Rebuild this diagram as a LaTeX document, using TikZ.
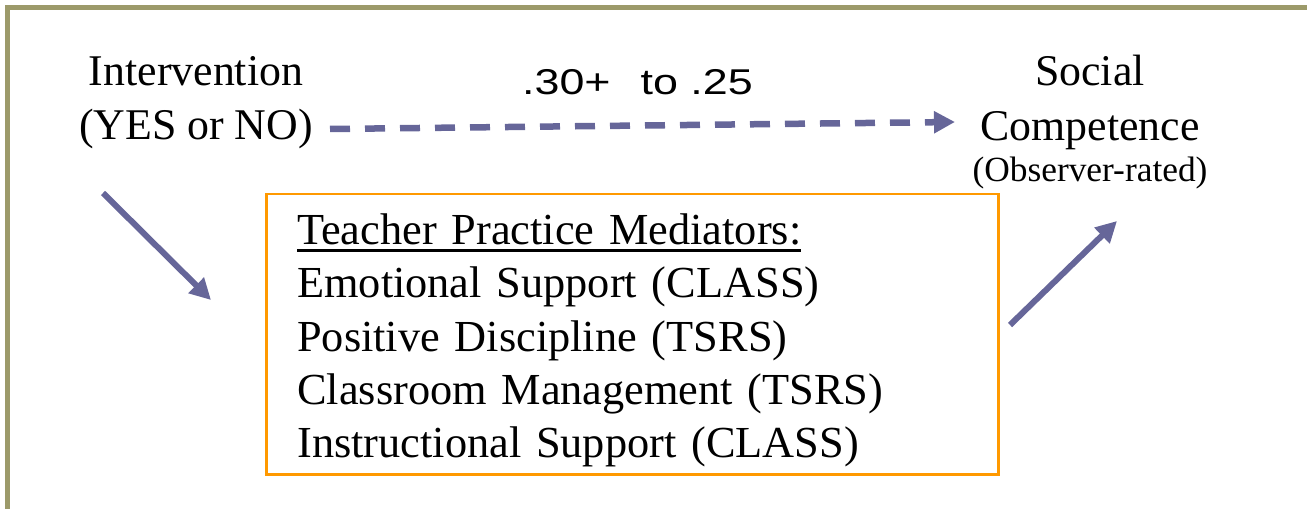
\documentclass[tikz,border=0pt]{standalone}
\usepackage{fontspec}
\setmainfont{Liberation Serif}
\newfontfamily\coeffont[FakeStretch=1.25]{Liberation Sans}
\usetikzlibrary{arrows.meta,positioning,calc}

\definecolor{pathblue}{HTML}{666699}
\definecolor{boxorange}{HTML}{FF9900}
\definecolor{frameolive}{HTML}{9C9A6A}

% heading underline, thicker and lower than \underline
\newcommand{\headline}[1]{\setbox0\hbox{#1}\rule{0pt}{43bp}\rlap{\rule[-7.25bp]{\wd0}{2.5bp}}\box0}

\tikzset{
  varlabel/.style={align=center, inner sep=0pt, font=\fontsize{44}{55}\selectfont},
  coef/.style={inner sep=0pt, font=\coeffont\fontsize{36}{40}\selectfont},
  effect/.style={draw=pathblue, line width=6bp, -{Triangle[length=21bp,width=21bp]}},
  direct/.style={effect, line width=6.5bp, dash pattern=on 20bp off 15bp},
  mediators/.style={draw=boxorange, line width=2.5bp, align=left, text width=670bp,
    inner xsep=31bp, inner ysep=0pt, minimum height=280bp,
    font=\fontsize{44.5}{53.5}\selectfont},
}

\begin{document}
\begin{tikzpicture}[x=1bp,y=-1bp]
  \useasboundingbox (0,0) rectangle (1307,509);

  % slide frame
  \draw[frameolive, line width=5bp] (1307,7.5) -- (7.5,7.5) -- (7.5,509);

  % variables (base = last line)
  \node[varlabel, anchor=base] (interv) at (196,140) {Intervention\\(YES or NO)};
  \node[varlabel, anchor=base] (social) at (1090,182)
    {Social\\Competence\\[-13bp]{\fontsize{35.5}{40}\selectfont(Observer-rated)}};

  % mediator box
  \node[mediators, anchor=north west] (med) at (265,193)
    {\headline{Teacher Practice Mediators:}\\
     Emotional Support (CLASS)\\
     Positive Discipline (TSRS)\\
     Classroom Management (TSRS)\\
     Instructional Support (CLASS)};

  % path ends
  \coordinate (dstart) at (330,129);
  \coordinate (dend) at (955,122);
  \coordinate (astart) at (103,193);
  \coordinate (aend) at (211,300);
  \coordinate (bstart) at (1010,325);
  \coordinate (bend) at (1117,221);

  \draw[direct] (dstart) -- (dend)
    node[coef, midway, above=27bp, xshift=-5bp] (c) {.30+\hspace{30bp}to .25};
  \draw[effect] (astart) -- (aend);
  \draw[effect] (bstart) -- (bend);
\end{tikzpicture}
\end{document}
